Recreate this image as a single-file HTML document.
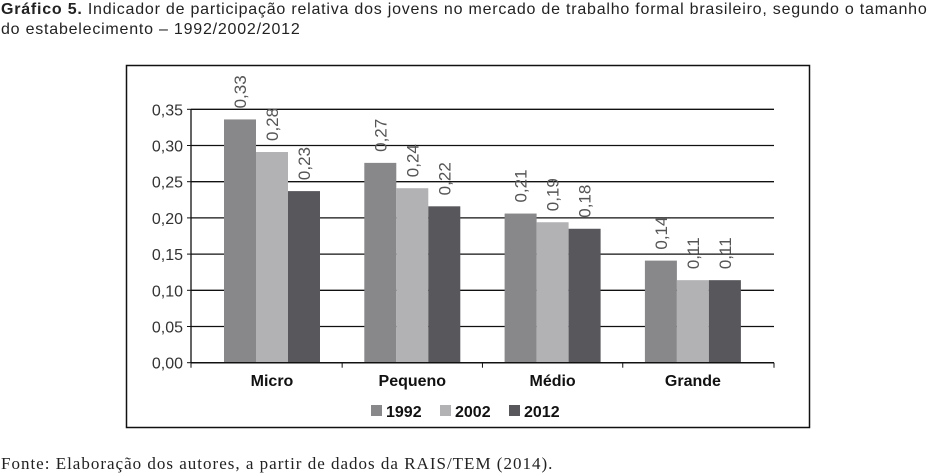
<!DOCTYPE html>
<html><head><meta charset="utf-8"><style>
body{margin:0;background:#fff;width:938px;height:475px;overflow:hidden;font-family:"Liberation Sans",sans-serif;}
#title{position:absolute;left:1px;top:0px;font-size:16px;line-height:20px;color:#222;width:960px;letter-spacing:0.78px;white-space:nowrap;}
#fonte{position:absolute;left:1px;top:454px;font-size:17px;letter-spacing:1px;font-family:"Liberation Serif",serif;color:#222;white-space:nowrap;}
svg{position:absolute;left:0;top:0;}
</style></head><body>
<div id="title"><b>Gráfico 5.</b> Indicador de participação relativa dos jovens no mercado de trabalho formal brasileiro, segundo o tamanho<br>do estabelecimento – 1992/2002/2012</div>
<svg id="chart" width="938" height="475"></svg>
<div id="fonte">Fonte: Elaboração dos autores, a partir de dados da RAIS/TEM (2014).</div>
<script>
const categories=["Micro","Pequeno","Médio","Grande"];
const seriesNames=["1992","2002","2012"];
const v1992=[0.336,0.276,0.206,0.141];
const v2002=[0.291,0.241,0.194,0.114];
const v2012=[0.237,0.216,0.185,0.114];
const labels1992=["0,33","0,27","0,21","0,14"];
const labels2002=["0,28","0,24","0,19","0,11"];
const labels2012=["0,23","0,22","0,18","0,11"];
const yTicks=[0,0.05,0.10,0.15,0.20,0.25,0.30,0.35];
const yTickLabels=["0,00","0,05","0,10","0,15","0,20","0,25","0,30","0,35"];
const series=[v1992,v2002,v2012];
const seriesLabels=[labels1992,labels2002,labels2012];
const colors=["#88888b","#b2b2b4","#58585c"];
const svg=document.getElementById('chart');
const NS="http://www.w3.org/2000/svg";
const X0=191,X1=774,Y0=362.7,Y35=109.3;
function y(v){return Y0-(v/0.35)*(Y0-Y35);}
function xc(i){return 272+i*140.3;}
const BW=32;
function mk(t,a,p){const e=document.createElementNS(NS,t);for(const k in a)e.setAttribute(k,a[k]);(p||svg).appendChild(e);return e;}
const box=mk('rect',{x:126.5,y:65.5,width:683,height:362,fill:'none',stroke:'#111','stroke-width':1.5});


yTicks.forEach((t,i)=>{
  if(i>0){const g=mk('line',{x1:X0,x2:X1,y1:y(t),y2:y(t),stroke:'#111','stroke-width':1.3});
  
  }
  const tk=mk('line',{x1:X0-4,x2:X0,y1:y(t),y2:y(t),stroke:'#111'});
  
  
  const l=mk('text',{x:X0-8,y:y(t)+6,'text-anchor':'end','font-size':16,fill:'#333'});
  l.textContent=yTickLabels[i];
  
  
});
const ya=mk('line',{x1:X0,x2:X0,y1:Y35,y2:Y0,stroke:'#111','stroke-width':1.3});


categories.forEach((c,i)=>{
  series.forEach((s,j)=>{
    const bx=xc(i)-1.5*BW+j*BW;
    const r=mk('rect',{x:bx,y:y(s[i]),width:BW,height:Y0-y(s[i]),fill:colors[j]});
    
    
    const tx=bx+BW/2+6, ty=y(s[i])-11;
    const t=mk('text',{x:tx,y:ty,'font-size':17,fill:'#555',transform:`rotate(-90 ${tx} ${ty})`});
    t.textContent=seriesLabels[j][i];
    
    
  });
  const cl=mk('text',{x:xc(i),y:386,'text-anchor':'middle','font-size':16,'font-weight':'bold',fill:'#111'});
  cl.textContent=c;
  
  
});
const xa=mk('line',{x1:X0,x2:X1,y1:Y0,y2:Y0,stroke:'#111','stroke-width':1.5});


[X0,(xc(0)+xc(1))/2,(xc(1)+xc(2))/2,(xc(2)+xc(3))/2,X1].forEach(px=>{
  const t=mk('line',{x1:px,x2:px,y1:Y0,y2:Y0+5,stroke:'#111'});
  
  
});
seriesNames.forEach((n,j)=>{
  const lx=371+j*69;
  const g=mk('g',{});
  
  
  mk('rect',{x:lx,y:405,width:11,height:11,fill:colors[j]},g);
  const t=mk('text',{x:lx+15,y:417,'font-size':16,'font-weight':'bold',fill:'#111'},g);
  t.textContent=n;
});
</script>
</body></html>
